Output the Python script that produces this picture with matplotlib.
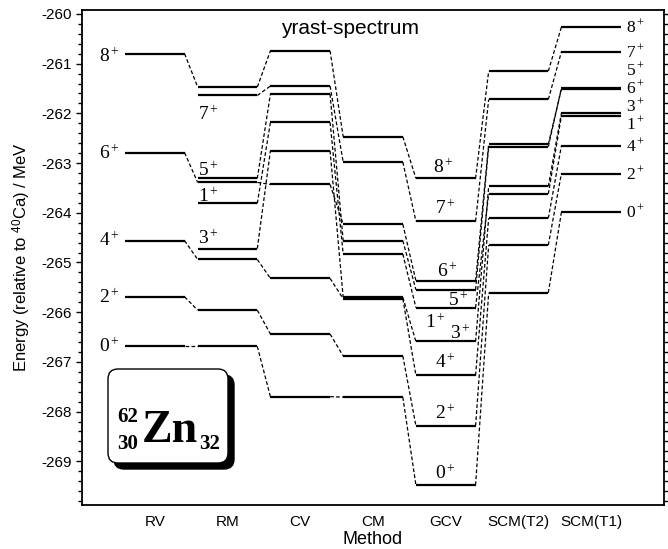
import matplotlib
matplotlib.use('Agg')
import matplotlib.pyplot as plt
from matplotlib.patches import FancyBboxPatch
from matplotlib.ticker import MultipleLocator
import numpy as np

nan = np.nan
methods = ['RV', 'RM', 'CV', 'CM', 'GCV', 'SCM(T2)', 'SCM(T1)']
spins = [0, 1, 2, 3, 4, 5, 6, 7, 8]
# energies (MeV) in spin order 0..8
e_RV = [-266.69, nan, -265.69, nan, -264.56, nan, -262.79, nan, -260.80]
e_RM = [-266.69, -263.81, -265.96, -264.72, -264.94, -263.31, -263.39, -261.64, -261.47]
e_CV = [-267.70, -262.18, -266.44, -262.75, -265.32, -261.61, -263.43, -261.45, -260.74]
e_CM = [-267.71, -264.83, -266.88, -265.70, -265.73, -264.56, -264.23, -262.98, -262.47]
e_GCV = [-269.48, -265.91, -268.29, -266.59, -267.27, -265.55, -265.37, -264.17, -263.31]
e_T2 = [-265.61, -263.62, -264.65, -263.47, -264.11, -262.67, -262.62, -261.72, -261.15]
e_T1 = [-263.99, -262.05, -263.21, -261.99, -262.65, -261.49, -261.51, -260.76, -260.26]
energies = [e_RV, e_RM, e_CV, e_CM, e_GCV, e_T2, e_T1]

narrow = ['Liberation Sans Narrow', 'Liberation Sans', 'DejaVu Sans']
serif = ['Liberation Serif', 'DejaVu Serif']
plt.rcParams['mathtext.fontset'] = 'custom'
plt.rcParams['mathtext.rm'] = 'Liberation Serif'
plt.rcParams['mathtext.sf'] = 'Liberation Sans'
plt.rcParams['mathtext.it'] = 'Liberation Serif:italic'
plt.rcParams['mathtext.bf'] = 'Liberation Serif:bold'

fig = plt.figure(figsize=(6.68, 5.49), dpi=100)
ax = fig.add_axes([82/668, 1-505/549, 582/668, 495/549])
ax.set_xlim(0, 8)
ax.set_ylim(-269.88, -259.92)

half = 0.41
for i, e in enumerate(energies):
    for v in e:
        if not np.isnan(v):
            ax.plot([i+1-half, i+1+half], [v, v], color='k', lw=1.6,
                    solid_capstyle='butt')
for i in range(len(energies)-1):
    for a, b in zip(energies[i], energies[i+1]):
        if not (np.isnan(a) or np.isnan(b)):
            ax.plot([i+1+half, i+2-half], [a, b], color='k', lw=0.9,
                    ls=(0, (3, 1.8)))

# level labels
lab_kw = dict(family=serif, fontsize=14, color='k')
for s, y in [(8, -260.85), (6, -262.82), (4, -264.57), (2, -265.71), (0, -266.69)]:
    ax.text(0.37, y, f'{s}$^+$', ha='center', va='center', **lab_kw)
for s, y in [(7, -262.03), (5, -263.16), (1, -263.68), (3, -264.53)]:
    ax.text(1.6, y, f'{s}$^+$', ha='left', va='center', **lab_kw)
for s, x, y in [(8, 4.97, -263.09), (7, 5.0, -263.91), (6, 5.02, -265.19),
                (5, 5.17, -265.77), (1, 4.86, -266.22), (3, 5.2, -266.44),
                (4, 5.0, -267.02), (2, 5.0, -268.05), (0, 5.0, -269.24)]:
    ax.text(x, y, f'{s}$^+$', ha='center', va='center', **lab_kw)
t1_kw = dict(family=serif, fontsize=12.5, color='k')
for s, y in [(8, -260.27), (7, -260.77), (5, -261.13), (6, -261.50), (3, -261.86),
             (1, -262.22), (4, -262.67), (2, -263.22), (0, -264.0)]:
    ax.text(7.48, y, f'{s}$^+$', ha='left', va='center', **t1_kw)

ax.text(3.68, -260.3, 'yrast-spectrum', ha='center', va='center',
        family=narrow, fontsize=15)

# ticks
ax.yaxis.set_minor_locator(MultipleLocator(0.2))
ax.set_yticks(np.arange(-269, -259, 1))
ax.set_yticklabels([str(int(v)) for v in np.arange(-269, -259, 1)], family=narrow, fontsize=11)
ax.set_xticks(range(1, len(methods)+1))
ax.set_xticklabels(methods, family=narrow, fontsize=11)
ax.tick_params(axis='x', length=0, pad=7)
ax.tick_params(axis='y', which='major', direction='out', length=4, width=1,
               left=True, right=True, labelright=False)
ax.tick_params(axis='y', which='minor', direction='out', length=3, width=1,
               left=True, right=True)
for sp in ax.spines.values():
    sp.set_linewidth(1.3)

ax.set_ylabel(r'Energy (relative to $^{\mathsf{40}}$Ca) / MeV', family=narrow, fontsize=12, labelpad=6)
ax.set_xlabel('Method', family=narrow, fontsize=13, labelpad=2)

# nucleus box
tr = fig.dpi_scale_trans
shadow = FancyBboxPatch((1.14, 0.80), 1.20, 0.94, boxstyle='round,pad=0,rounding_size=0.1',
                        transform=tr, facecolor='k', edgecolor='k', zorder=5, clip_on=False)
box = FancyBboxPatch((1.08, 0.86), 1.20, 0.94, boxstyle='round,pad=0,rounding_size=0.1',
                     transform=tr, facecolor='white', edgecolor='k', lw=1.0, zorder=6, clip_on=False)
ax.add_patch(shadow)
ax.add_patch(box)
zkw = dict(transform=tr, family=serif, fontweight='bold', va='baseline', zorder=7)
ax.text(1.42, 1.065, 'Zn', fontsize=33, ha='left', **zkw)
ax.text(1.17, 1.27, '62', fontsize=15, ha='left', **zkw)
ax.text(1.17, 1.00, '30', fontsize=15, ha='left', **zkw)
ax.text(1.99, 1.00, '32', fontsize=15, ha='left', **zkw)

fig.savefig('out.png', dpi=100)
